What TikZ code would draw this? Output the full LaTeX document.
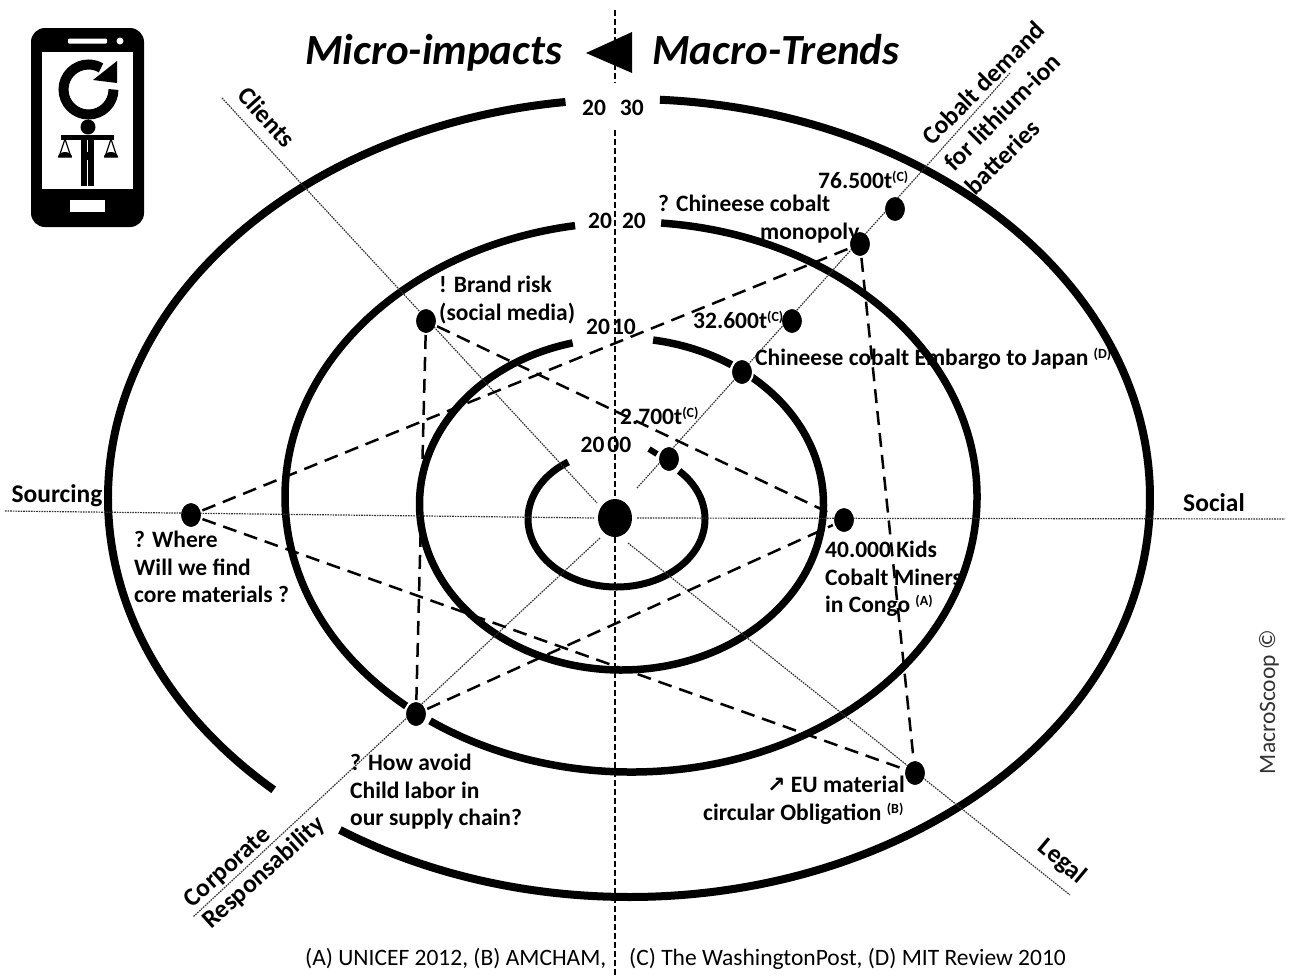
\documentclass[tikz,border=0pt]{standalone}
\usepackage{fontspec}
\setmainfont{Carlito}
\newfontfamily\symfont{DejaVu Sans}
\usetikzlibrary{shapes.geometric}
\newcommand{\sups}[1]{\raisebox{7pt}{\fontsize{14}{14}\selectfont #1}}
\tikzset{
  x=1pt,y=-1pt,
  ring/.style={line width=7.5pt,black},
  thinaxis/.style={line width=1.2pt,black!80,dash pattern=on 1.6pt off 1pt},
  link/.style={line width=2.5pt,black,dash pattern=on 14pt off 8pt},
  midaxis/.style={line width=2.2pt,black,dash pattern=on 6pt off 3pt},
  spot/.style={ellipse,fill=black,draw=white,line width=2pt,minimum width=22pt,minimum height=26pt,inner sep=0pt},
  lab/.style={anchor=north west,inner sep=0pt,align=left,font=\fontsize{23.5}{27.5}\selectfont\bfseries},
  axlabel/.style={inner sep=0pt,font=\fontsize{25.5}{28}\selectfont\bfseries},
  year/.style={inner sep=0pt,font=\fontsize{23.5}{25}\selectfont\bfseries},
  src/.style={inner sep=0pt,font=\fontsize{23.5}{25}\selectfont},
  head/.style={inner sep=0pt,anchor=base west,font=\fontsize{43}{48}\selectfont\bfseries\itshape},
}
\begin{document}
\begin{tikzpicture}
\useasboundingbox (0,0) rectangle (1291,978);
% rings
\draw[ring,line width=8pt] (629,498) ++(-86.6:521 and 399) arc[start angle=-86.6,end angle=123.7,x radius=521,y radius=399];
\draw[ring,line width=8pt] (629,498) ++(133:521 and 399) arc[start angle=133,end angle=263,x radius=521,y radius=399];
\draw[ring] (631,497) ++(-85:346 and 275) arc[start angle=-85,end angle=125.5,x radius=346,y radius=275];
\draw[ring] (631,497) ++(130.5:346 and 275) arc[start angle=130.5,end angle=260.7,x radius=346,y radius=275];
\draw[ring] (621.5,504) ++(-81:202 and 166) arc[start angle=-81,end angle=-57,x radius=202,y radius=166];
\draw[ring] (621.5,504) ++(-50:202 and 166) arc[start angle=-50,end angle=256,x radius=202,y radius=166];
\draw[ring,line width=7pt] (616.5,519) ++(-45:88.5 and 68) arc[start angle=-45,end angle=237,x radius=88.5,y radius=68];
\coordinate (stubA) at (649,449);
\coordinate (stubB) at (657,454);
\draw[line width=6pt] (stubA) -- (stubB);
% axis ends
\coordinate (vtop) at (615,10);
\coordinate (vgapA) at (615,83);
\coordinate (vgapB) at (615,130);
\coordinate (vbot) at (615,978);
\coordinate (hleft) at (5,511);
\coordinate (hright) at (1285,519);
\coordinate (clientEnd) at (222,98);
\coordinate (clientIn) at (597,503);
\coordinate (legalEnd) at (1070,895);
\coordinate (legalIn) at (628,543);
\coordinate (cobaltEnd) at (1010,73);
\coordinate (cobaltIn) at (637,488);
\coordinate (corpEnd) at (193,917);
\coordinate (corpIn) at (600,538);
% nodes
\node[ellipse,fill=black,minimum width=34pt,minimum height=38pt,inner sep=0pt] (hub) at (615,518) {};
\node[spot] (n76) at (895,209) {};
\node[spot] (mono) at (860,244) {};
\node[spot] (n32) at (792,321) {};
\node[spot] (embargo) at (742,372) {};
\node[spot] (n27) at (669,459) {};
\node[spot] (kids) at (844,520) {};
\node[spot] (brand) at (426,321) {};
\node[spot] (where) at (191,515) {};
\node[spot] (child) at (416,714) {};
\node[spot] (eu) at (915,773) {};
% axes
\draw[midaxis] (vtop) -- (vgapA);
\draw[midaxis] (vgapB) -- (hub.north);
\draw[midaxis] (hub.south) -- (vbot);
\draw[thinaxis] (hleft) -- ([xshift=-3pt]hub.west);
\draw[thinaxis] ([xshift=5pt]hub.east) -- (hright);
\draw[thinaxis] (clientEnd) -- (clientIn);
\draw[thinaxis] (legalIn) -- (legalEnd);
\draw[thinaxis] (cobaltEnd) -- (cobaltIn);
\draw[thinaxis] (corpIn) -- (corpEnd);
% links
\draw[link] (where) -- (mono);
\draw[link] (where) -- (eu);
\draw[link] (brand) -- (kids);
\draw[link] (child) -- (kids);
\draw[link] (brand) -- (child);
\draw[link] (mono) -- (eu);
% redraw spots above links
\foreach \p/\q in {895/209,860/244,792/321,742/372,669/459,844/520,426/321,191/515,416/714,915/773}
  \fill[black] (\p,\q) ellipse [x radius=9.5,y radius=11.5];
% title
\node[head] (micro) at (305,64) {Micro-impacts};
\node[head] (macro) at (652,64) {Macro-Trends};
\fill[black] (586,53) -- (632,32) -- (632,73) -- cycle;
% years
\node[year] (y30) at (613,108) {20\hspace{14pt}30};
\node[year] (y20) at (617,221) {20\hspace{10pt}20};
\node[year] (y10) at (611,327) {20\hspace{2pt}10};
\node[year] (y00) at (606,445) {20\hspace{3pt}00};
% labels
\node[lab] (t76) at (818,171) {76.500t\sups{(C)}};
\node[lab] (tmono) at (658,195) {? Chineese cobalt\\\hspace{102pt}monopoly};
\node[lab] (t32) at (693,311) {32.600t\sups{(C)}};
\node[lab] (tembargo) at (755,348) {Chineese cobalt Embargo to Japan \sups{(D)}};
\node[lab] (t27) at (620,407) {2.700t\sups{(C)}};
\node[lab] (tbrand) at (439,276) {! Brand risk\\(social media)};
\node[lab] (twhere) at (134,531) {? Where\\Will we find\\core materials ?};
\node[lab] (tkids) at (825,541) {40.000 Kids\\Cobalt Miners\\in Congo \sups{(A)}};
\node[lab] (tchild) at (350,754) {? How avoid\\Child labor in\\our supply chain?};
\node[lab] (teu) at (703,776) {\hspace{64pt}{\symfont\bfseries\fontsize{22}{22}\selectfont ↗} EU material\\circular Obligation \sups{(B)}};
% axis captions
\node[axlabel] (sourcing) at (57,496) {Sourcing};
\node[axlabel] (social) at (1214,503) {Social};
\node[axlabel,rotate=-48] (clients) at (267,117) {Clients};
\node[axlabel,rotate=-40] (legal) at (1062,862) {Legal};
\node[axlabel,rotate=45] (cob1) at (983,83) {Cobalt demand};
\node[axlabel,rotate=45] (cob2) at (1002,112) {for lithium-ion};
\node[axlabel,rotate=45] (cob3) at (1002,157) {batteries};
\node[axlabel,rotate=42] (corp) at (228,868) {Corporate};
\node[axlabel,rotate=42] (resp) at (264,873) {Responsability};
\node[src,rotate=90,black!80] (brandname) at (1269,702) {MacroScoop ©};
\node[src,anchor=base west] (refs1) at (305,965) {(A) UNICEF 2012, (B) AMCHAM,};
\node[src,anchor=base west] (refs2) at (629,965) {(C) The WashingtonPost, (D) MIT Review 2010};
% phone icon
\fill[black,rounded corners=14pt] (31,28) rectangle (144,227);
\fill[white] (42,52) rectangle (133,189);
\fill[white,rounded corners=1pt] (68,38.5) rectangle (107,43.5);
\fill[white] (120,41) circle (3.5);
\fill[white] (70,200) rectangle (105,212);
\draw[line width=10pt,black] (88.5,89.5) ++(0:25) arc[start angle=0,end angle=300,radius=25];
\fill[black] (117,61) -- (117,83) -- (93,80) -- cycle;
\fill[black] (88,127) circle (7.5);
\fill[black] (61,135) rectangle (114,140);
\fill[black] (81,138) rectangle (94,186);
\draw[white,line width=.8pt] (87.5,140) -- (87.5,152);
\draw[white,line width=.8pt] (87.5,160) -- (87.5,186);
\foreach \c in {65,111}{
  \draw[black,line width=1.2pt] (\c,139) -- (\c-6,157) -- (\c+6,157) -- cycle;
  \fill[black] (\c-7,157) arc[start angle=180,end angle=0,x radius=7,y radius=-5] -- cycle;
}
\end{tikzpicture}
\end{document}
